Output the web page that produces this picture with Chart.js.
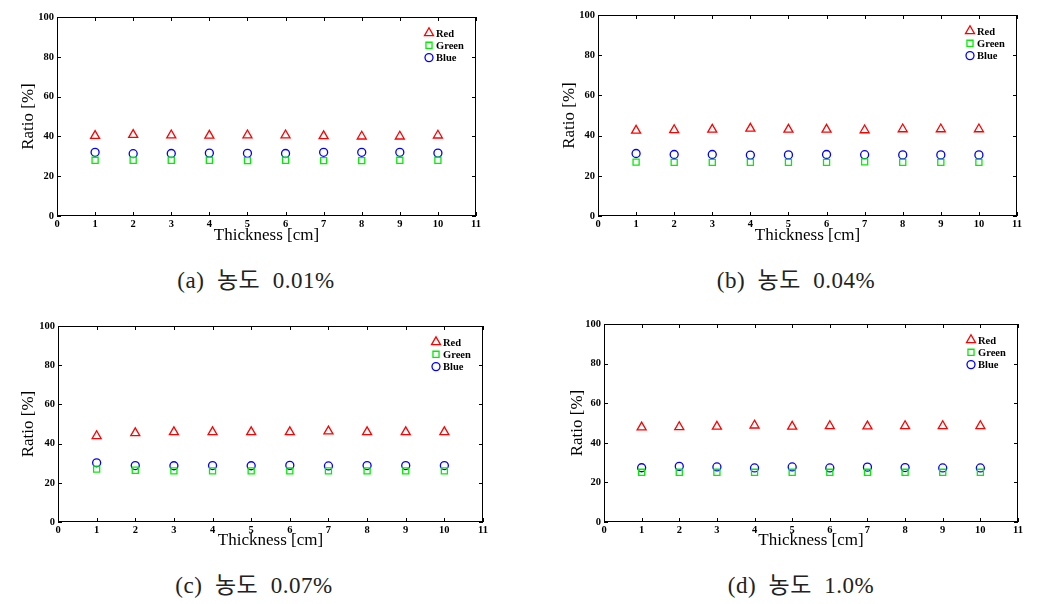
<!DOCTYPE html>
<html>
<head>
<meta charset="utf-8">
<script src="https://cdn.jsdelivr.net/npm/chart.js@4.4.1/dist/chart.umd.min.js"></script>
<style>
  body { margin: 0; background: #fff; width: 1051px; height: 604px; position: relative; overflow: hidden; }
  .panel { position: absolute; }
  .cap { position: absolute; font-family: "Liberation Serif", "Noto Sans CJK KR", serif; font-size: 23px; color: #222; transform: translate(-50%, -50%); white-space: pre; letter-spacing: 0.5px; }
</style>
</head>
<body>
<div class="panel" id="pa" style="left:0;top:0;width:510px;height:250px"><canvas id="ca"></canvas></div>
<div class="panel" id="pb" style="left:530px;top:0;width:521px;height:250px"><canvas id="cb"></canvas></div>
<div class="panel" id="pc" style="left:0;top:305px;width:510px;height:250px"><canvas id="cc"></canvas></div>
<div class="panel" id="pd" style="left:530px;top:305px;width:521px;height:250px"><canvas id="cd"></canvas></div>
<div class="cap" style="left:256px;top:278px">(a)  농도  0.01%</div>
<div class="cap" style="left:796px;top:278px">(b)  농도  0.04%</div>
<div class="cap" style="left:254px;top:583px">(c)  농도  0.07%</div>
<div class="cap" style="left:801px;top:583px">(d)  농도  1.0%</div>
<script>
const thickness = [1, 2, 3, 4, 5, 6, 7, 8, 9, 10];
const xTicks = [0, 1, 2, 3, 4, 5, 6, 7, 8, 9, 10, 11];
const yTicks = [0, 20, 40, 60, 80, 100];
const seriesNames = ['Red', 'Green', 'Blue'];

// (a) 0.01%
const redA   = [40.3, 40.8, 40.6, 40.4, 40.6, 40.6, 40.2, 40.0, 40.0, 40.5];
const greenA = [28.0, 28.0, 28.0, 28.0, 27.8, 28.0, 27.8, 27.8, 28.0, 28.0];
const blueA  = [32.0, 31.3, 31.4, 31.6, 31.5, 31.4, 32.0, 32.0, 32.0, 31.6];
// (b) 0.04%
const redB   = [42.5, 42.8, 43.0, 43.5, 43.0, 43.0, 42.7, 43.2, 43.2, 43.2];
const greenB = [26.8, 26.7, 26.7, 26.7, 26.7, 26.7, 26.9, 26.7, 26.7, 26.7];
const blueB  = [31.1, 30.6, 30.6, 30.3, 30.4, 30.6, 30.5, 30.4, 30.4, 30.4];
// (c) 0.07%
const redC   = [43.9, 45.4, 45.9, 45.9, 45.9, 45.9, 46.3, 45.9, 45.9, 45.9];
const greenC = [27.0, 26.4, 26.1, 26.1, 26.1, 26.1, 26.1, 26.1, 26.1, 26.1];
const blueC  = [30.2, 28.8, 28.7, 28.8, 28.7, 28.9, 28.6, 28.8, 28.8, 28.8];
// (d) 1.0%
const redD   = [47.8, 48.0, 48.2, 48.8, 48.2, 48.5, 48.3, 48.5, 48.5, 48.5];
const greenD = [25.1, 25.1, 25.1, 25.1, 25.1, 25.1, 25.1, 25.1, 25.1, 25.1];
const blueD  = [27.4, 28.1, 27.8, 27.3, 27.8, 27.3, 27.7, 27.5, 27.3, 27.3];

const styles = [
  { color: '#ff0000', pointStyle: 'triangle', radius: 5.2 },
  { color: '#00ee00', pointStyle: 'rect', radius: 4.3 },
  { color: '#0000ff', pointStyle: 'circle', radius: 4 }
];

// box + inward ticks + legend inside the plot
const framePlugin = {
  id: 'frame',
  afterDraw(chart) {
    const { ctx, chartArea: a, scales } = chart;
    ctx.save();
    ctx.strokeStyle = '#000';
    ctx.lineWidth = 1;
    ctx.strokeRect(a.left + 0.5, a.top + 0.5, a.right - a.left - 1, a.bottom - a.top - 1);
    ctx.beginPath();
    xTicks.forEach(v => {
      const px = Math.round(scales.x.getPixelForValue(v)) + 0.5;
      ctx.moveTo(px, a.bottom); ctx.lineTo(px, a.bottom - 4);
      ctx.moveTo(px, a.top); ctx.lineTo(px, a.top + 4);
    });
    yTicks.forEach(v => {
      const py = Math.round(scales.y.getPixelForValue(v)) + 0.5;
      ctx.moveTo(a.left, py); ctx.lineTo(a.left + 4, py);
      ctx.moveTo(a.right, py); ctx.lineTo(a.right - 4, py);
    });
    ctx.stroke();

    ctx.font = 'bold 10.5px "Liberation Serif"';
    ctx.textBaseline = 'middle';
    ctx.textAlign = 'left';
    chart.data.datasets.forEach((ds, i) => {
      const x = a.right - 47, y = a.top + 16 + i * 12.3;
      ctx.strokeStyle = ds.borderColor;
      ctx.fillStyle = 'rgba(0,0,0,0)';
      ctx.lineWidth = 1.3;
      Chart.helpers.drawPoint(ctx, { pointStyle: ds.pointStyle, radius: ds.pointRadius, rotation: 0, borderWidth: 1.3 }, x, y);
      ctx.fillStyle = '#000';
      ctx.fillText(ds.label, x + 7, y + 1);
    });
    ctx.restore();
  }
};

function makePanel(id, series, geo) {
  const datasets = series.map((vals, i) => ({
    label: seriesNames[i],
    data: thickness.map((t, k) => ({ x: t, y: vals[k] })),
    borderColor: styles[i].color,
    backgroundColor: 'rgba(0,0,0,0)',
    pointStyle: styles[i].pointStyle,
    pointRadius: styles[i].radius,
    pointBorderWidth: 1.3,
    showLine: false
  }));
  const tickFont = { family: 'Liberation Serif', size: 10.5, weight: 'bold' };
  const titleFont = { family: 'Liberation Serif', size: 17 };
  new Chart(document.getElementById(id), {
    type: 'scatter',
    data: { datasets },
    options: {
      responsive: true,
      maintainAspectRatio: false,
      animation: false,
      layout: { padding: { left: 0, top: geo.top, right: geo.right, bottom: 0 } },
      plugins: { legend: { display: false }, tooltip: { enabled: false } },
      scales: {
        x: {
          type: 'linear', min: 0, max: 11,
          afterBuildTicks: s => { s.ticks = xTicks.map(v => ({ value: v })); },
          afterFit: s => { s.height = geo.xh; },
          grid: { display: false, drawTicks: false },
          border: { display: false },
          ticks: { color: '#000', font: tickFont, padding: 2, maxRotation: 0, autoSkip: false },
          title: { display: true, text: 'Thickness [cm]', color: '#000', font: titleFont, padding: { top: 0, bottom: 4 } }
        },
        y: {
          type: 'linear', min: 0, max: 100,
          afterBuildTicks: s => { s.ticks = yTicks.map(v => ({ value: v })); },
          afterFit: s => { s.width = geo.yw; },
          grid: { display: false, drawTicks: false },
          border: { display: false },
          ticks: { color: '#000', font: tickFont, padding: 3 },
          title: { display: true, text: 'Ratio [%]', color: '#000', font: titleFont, padding: { top: geo.yt, bottom: 0 } }
        }
      }
    },
    plugins: [framePlugin]
  });
}

makePanel('ca', [redA, greenA, blueA], { top: 17, right: 34, xh: 34, yw: 57, yt: 18 });
makePanel('cb', [redB, greenB, blueB], { top: 15, right: 34, xh: 34, yw: 68, yt: 29 });
makePanel('cc', [redC, greenC, blueC], { top: 21, right: 27, xh: 33, yw: 58, yt: 18 });
makePanel('cd', [redD, greenD, blueD], { top: 19, right: 33, xh: 33, yw: 74, yt: 37 });
</script>
</body>
</html>
